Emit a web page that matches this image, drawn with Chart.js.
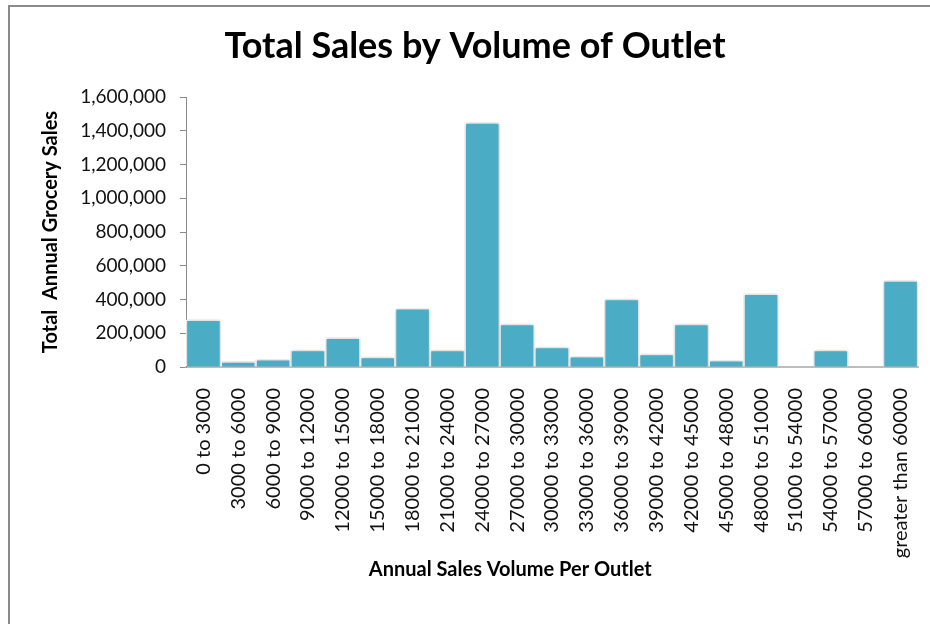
<!DOCTYPE html>
<html>
<head>
<meta charset="utf-8">
<script src="https://cdn.jsdelivr.net/npm/chart.js@4/dist/chart.umd.min.js"></script>
<style>
  html, body { margin: 0; padding: 0; background: #fff; }
  #wrap { position: relative; width: 930px; height: 624px; overflow: hidden; }
  #frame { position: absolute; left: 8px; top: 5px; width: 940px; height: 640px;
           border-left: 2px solid #8a8a8a; border-top: 2px solid #8a8a8a; }
  #chart { position: absolute; left: 0; top: 0; }
</style>
</head>
<body>
<div id="wrap">
  <div id="frame"></div>
  <canvas id="chart" width="930" height="624"></canvas>
</div>
<script>
// Outlet size bands (annual sales volume per outlet)
const categories = [
  "0 to 3000", "3000 to 6000", "6000 to 9000", "9000 to 12000", "12000 to 15000",
  "15000 to 18000", "18000 to 21000", "21000 to 24000", "24000 to 27000", "27000 to 30000",
  "30000 to 33000", "33000 to 36000", "36000 to 39000", "39000 to 42000", "42000 to 45000",
  "45000 to 48000", "48000 to 51000", "51000 to 54000", "54000 to 57000", "57000 to 60000",
  "greater than 60000"
];

// Total annual grocery sales in each band
const totalSales = [
  280000, 32000, 45000, 100000, 173000,
  59000, 347000, 100000, 1448000, 254000,
  118000, 63000, 402000, 77000, 254000,
  39000, 433000, 0, 100000, 0,
  512000
];

// Value axis range and step
const yMin = 0;
const yMax = 1600000;
const yStep = 200000;

const chartTitle = 'Total Sales by Volume of Outlet';
const xAxisTitle = 'Annual Sales Volume Per Outlet';
const yAxisTitle = 'Total  Annual Grocery Sales';

const FONT = "Lato, 'Open Sans', sans-serif";

// Soft drop shadow behind the columns
const columnShadow = {
  id: 'columnShadow',
  beforeDatasetsDraw(chart) {
    const ctx = chart.ctx;
    ctx.save();
    ctx.shadowColor = 'rgba(0,0,0,0.28)';
    ctx.shadowBlur = 4;
    ctx.shadowOffsetX = 0;
    ctx.shadowOffsetY = 0;
  },
  afterDatasetsDraw(chart) {
    chart.ctx.restore();
  }
};

// Category-axis caption, placed a little left of the plot centre
const xCaption = {
  id: 'xCaption',
  afterDraw(chart) {
    const { ctx, chartArea } = chart;
    const x = chartArea.left + (chartArea.right - chartArea.left) * 0.443;
    ctx.save();
    ctx.font = "bold 20px " + FONT;
    ctx.fillStyle = '#000';
    ctx.textAlign = 'center';
    ctx.textBaseline = 'middle';
    ctx.fillText(xAxisTitle, x, 570);
    ctx.restore();
  }
};

new Chart(document.getElementById('chart'), {
  type: 'bar',
  data: {
    labels: categories,
    datasets: [{
      data: totalSales,
      backgroundColor: '#4bacc6',
      borderColor: '#ffffff',
      borderWidth: 1.5,
      barPercentage: 1,
      categoryPercentage: 1
    }]
  },
  plugins: [columnShadow, xCaption],
  options: {
    responsive: false,
    animation: false,
    devicePixelRatio: 1,
    layout: { padding: { left: 20, right: 0, top: 0, bottom: 0 } },
    plugins: {
      legend: { display: false },
      tooltip: { enabled: false },
      title: {
        display: true,
        text: chartTitle,
        color: '#000',
        font: { family: FONT, size: 36, weight: 'bold' },
        padding: { top: 25, bottom: 28.8 }
      }
    },
    scales: {
      x: {
        offset: true,
        grid: { display: true, drawOnChartArea: false, drawTicks: false },
        border: { display: true, color: '#bdbdbd', width: 2 },
        ticks: {
          autoSkip: false,
          maxRotation: 90,
          minRotation: 90,
          padding: 21,
          color: '#111',
          font: { family: FONT, size: 20 }
        },
        afterFit(scale) {
          scale.height = 257;
          scale.paddingLeft = 0;
          scale.paddingRight = 12;
        }
      },
      y: {
        min: yMin,
        max: yMax,
        grid: { display: true, drawOnChartArea: false, drawTicks: true, tickLength: 6, color: '#8a8a8a' },
        border: { display: true, color: '#8a8a8a', width: 1 },
        ticks: {
          stepSize: yStep,
          padding: 14,
          color: '#111',
          font: { family: FONT, size: 19 },
          callback: (v) => v.toLocaleString('en-US')
        },
        title: {
          display: true,
          text: yAxisTitle,
          color: '#000',
          font: { family: FONT, size: 20, weight: 'bold' },
          padding: { top: 19, bottom: 0 }
        },
        afterFit(scale) { scale.width = 166; }
      }
    }
  }
});
</script>
</body>
</html>
